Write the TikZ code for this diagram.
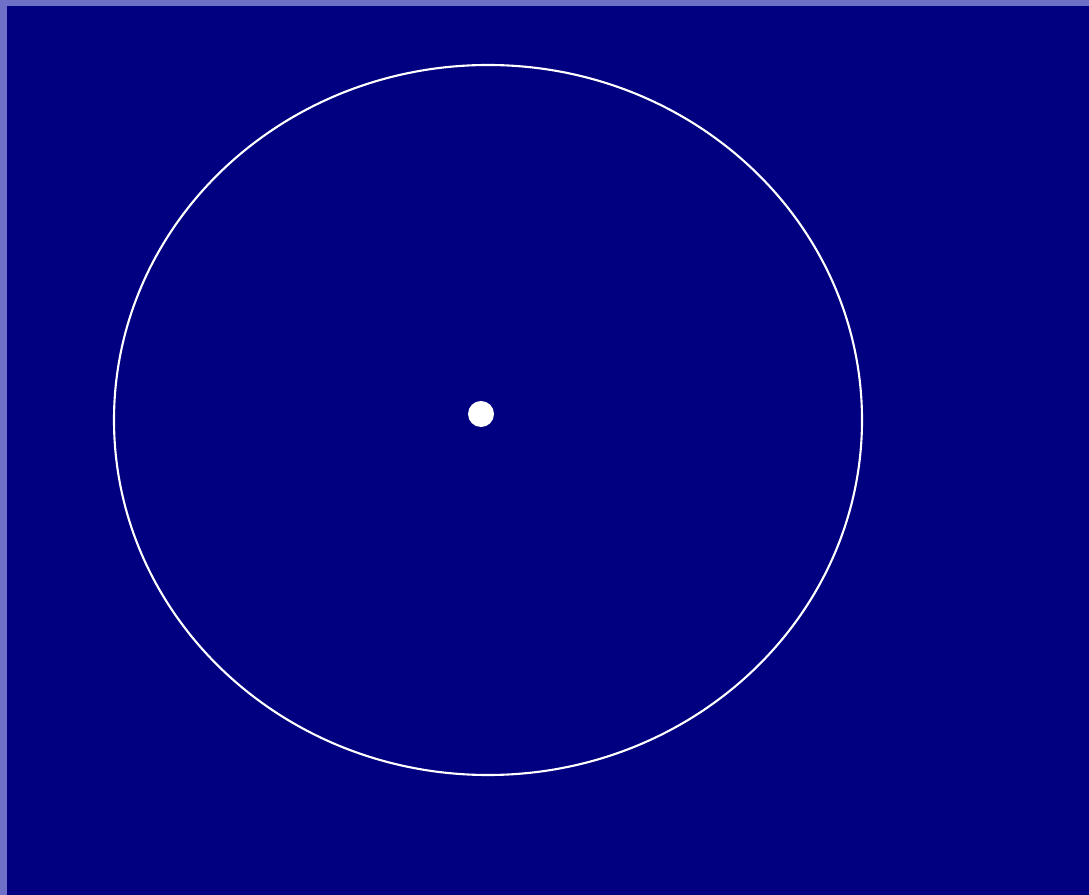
\documentclass[tikz,border=0pt]{standalone}
\usetikzlibrary{positioning}
\definecolor{navy}{HTML}{000080}
\definecolor{edgeb}{HTML}{6E70C8}
\definecolor{chalk}{HTML}{FFFFFF}

\begin{document}
\begin{tikzpicture}[x=0.01cm,y=-0.01cm]
    \useasboundingbox (0,0) rectangle (1089,895);
    \fill[edgeb] (0,0) rectangle (1089,895);
    \fill[navy] (7,6) rectangle (1089,895);
    \draw[chalk,line width=0.6pt] (488,420) ellipse [x radius=374,y radius=355];
    \node[circle,fill=chalk,inner sep=0pt,minimum size=0.26cm] (centre) at (481,414) {};
  \end{tikzpicture}
\end{document}
